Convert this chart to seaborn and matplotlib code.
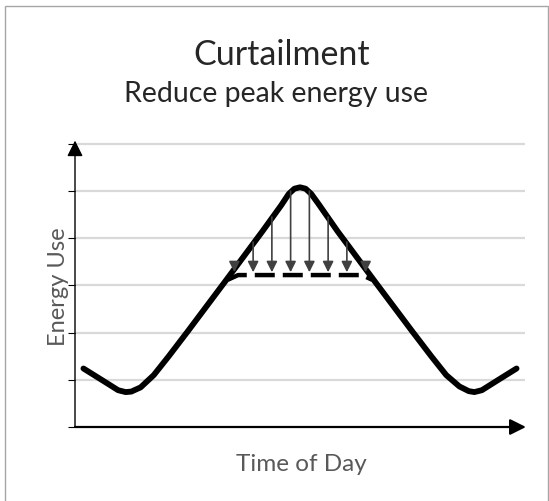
import numpy as np
import pandas as pd
import matplotlib
matplotlib.use("Agg")
import matplotlib.pyplot as plt
import seaborn as sns
from matplotlib.patches import Rectangle

# Load profile (hour of day vs energy use, grid units)
hours = [0.45, 1.5, 2.3, 2.7, 3.0, 3.5, 4.2, 5.0, 6.0, 8.0, 10.0, 11.0, 11.4, 11.7, 12.0,
         12.3, 12.6, 13.0, 14.0, 16.0, 18.0, 19.0, 19.8, 20.5, 21.0, 21.3, 21.7, 22.5, 23.55]
energy = [1.24, 0.98, 0.78, 0.74, 0.75, 0.84, 1.10, 1.50, 2.02, 3.08, 4.15, 4.70, 4.94, 5.05, 5.08,
          5.05, 4.94, 4.72, 4.15, 3.08, 2.02, 1.50, 1.10, 0.86, 0.76, 0.74, 0.78, 0.98, 1.24]

# Curtailed (flattened) peak
cut_hours = [8.15, 8.7, 15.3, 15.85]
cut_energy = [3.12, 3.22, 3.22, 3.12]

# Reduction arrows
arrow_x = [8.5, 9.5, 10.5, 11.5, 12.5, 13.5, 14.5, 15.5]
arrow_top = [3.45, 3.92, 4.45, 5.0, 5.0, 4.45, 3.92, 3.45]
arrow_tip = 3.28

grid_levels = [0, 1, 2, 3, 4, 5, 6]

sns.set_style("white")
plt.rcParams['font.family'] = ['Lato', 'DejaVu Sans']

fig = plt.figure(figsize=(5.49, 5.02), dpi=100)
ax = fig.add_axes([75/549, 74/502, 450/549, 285/502])

df = pd.DataFrame({"Hour": hours, "Energy": energy})

ax.set_xlim(0, 24)
ax.set_ylim(0, 6.04)

# gridlines
for g in grid_levels[1:]:
    ax.axhline(g, color="#d9d9d9", lw=1.6, zorder=0)

sns.lineplot(data=df, x="Hour", y="Energy", color="black", lw=4.2, ax=ax,
             solid_joinstyle="round", solid_capstyle="round", zorder=3)
ax.plot(cut_hours, cut_energy, color="black", lw=3.2, dashes=(4.5, 1.8), zorder=3)

for x, top in zip(arrow_x, arrow_top):
    ax.annotate("", xy=(x, arrow_tip), xytext=(x, top),
                arrowprops=dict(arrowstyle="-|>", color="#404040", lw=1.2,
                                mutation_scale=16, shrinkA=0, shrinkB=0),
                zorder=4)

# axes with arrow heads
for s in ax.spines.values():
    s.set_visible(False)
ax.annotate("", xy=(0, 6.07), xytext=(0, 0), annotation_clip=False,
            arrowprops=dict(arrowstyle="-|>", color="black", lw=1.0,
                            mutation_scale=24, shrinkA=0, shrinkB=0))
ax.annotate("", xy=(24.05, 0), xytext=(0, 0), annotation_clip=False,
            arrowprops=dict(arrowstyle="-|>", color="black", lw=1.6,
                            mutation_scale=24, shrinkA=0, shrinkB=0))

ax.set_yticks(grid_levels)
ax.set_yticklabels([])
ax.set_xticks([])
ax.tick_params(axis="y", direction="out", length=5, width=0.8, color="black", left=True)

ax.set_ylabel("Energy Use", fontsize=17, color="#595959")
ax.set_xlabel("Time of Day", fontsize=17.5, color="#595959")
ax.yaxis.set_label_coords(-0.013, 0.495)
ax.xaxis.set_label_coords(0.502, -0.091)

fig.text(282/549, 1 - 55/502, "Curtailment", ha="center", va="center", fontsize=24.5)
fig.text(276/549, 1 - 94/502, "Reduce peak energy use", ha="center", va="center", fontsize=20.5)

fig.patches.append(Rectangle((5/549, -0.01), 543/549, 1 - 7/502 + 0.01,
                             transform=fig.transFigure, fill=False,
                             edgecolor="#a6a6a6", lw=1.0))

fig.savefig("out.png", dpi=100)
